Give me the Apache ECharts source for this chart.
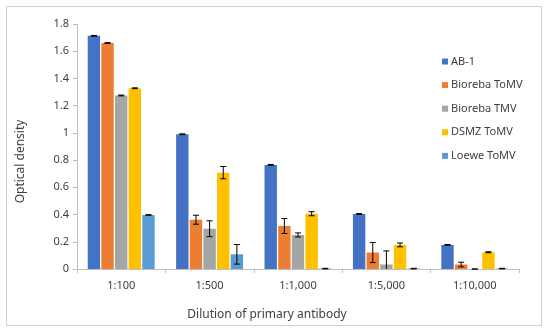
<!DOCTYPE html>
<html>
<head>
<meta charset="utf-8">
<script src="https://cdn.jsdelivr.net/npm/echarts@6/dist/echarts.min.js"></script>
<style>html,body{margin:0;padding:0;background:#fff}#c{width:550px;height:333px}</style>
</head>
<body>
<div id="c"></div>
<script>
const categories = ['1:100', '1:500', '1:1,000', '1:5,000', '1:10,000'];
const seriesNames = ['AB-1', 'Bioreba ToMV', 'Bioreba TMV', 'DSMZ ToMV', 'Loewe ToMV'];
const ab1 = [1.713, 0.990, 0.765, 0.404, 0.177];
const ab1Err = [0.003, 0.003, 0.003, 0.003, 0.003];
const biorebaToMV = [1.660, 0.362, 0.316, 0.121, 0.033];
const biorebaToMVErr = [0.003, 0.033, 0.055, 0.074, 0.017];
const biorebaTMV = [1.275, 0.296, 0.250, 0.033, 0.000];
const biorebaTMVErr = [0.003, 0.058, 0.015, 0.100, 0.000];
const dsmzToMV = [1.328, 0.708, 0.406, 0.177, 0.123];
const dsmzToMVErr = [0.003, 0.045, 0.015, 0.014, 0.004];
const loeweToMV = [0.397, 0.108, 0.003, 0.003, 0.003];
const loeweToMVErr = [0.002, 0.072, 0.002, 0.002, 0.002];
const yTicks = { min: 0, max: 1.8, interval: 0.2 };

const values = [ab1, biorebaToMV, biorebaTMV, dsmzToMV, loeweToMV];
const errors = [ab1Err, biorebaToMVErr, biorebaTMVErr, dsmzToMVErr, loeweToMVErr];
const colors = ['#4472C4', '#ED7D31', '#A5A5A5', '#FFC000', '#5B9BD5'];
const BAR_W = 12.4, BAR_GAP = 0.1;
const FONT = 'Noto Sans';

const chart = echarts.init(document.getElementById('c'), null, { renderer: 'canvas' });

const barSeries = values.map((arr, i) => ({
  name: seriesNames[i],
  type: 'bar',
  data: arr,
  barWidth: BAR_W,
  barGap: (BAR_GAP * 100) + '%',
  itemStyle: { color: colors[i] },
  z: 2
}));

const errSeries = values.map((arr, i) => ({
  name: seriesNames[i] + ' err',
  type: 'custom',
  z: 5,
  silent: true,
  data: arr.map((v, j) => [j, v, errors[i][j]]),
  renderItem: function (params, api) {
    const j = api.value(0), v = api.value(1), e = api.value(2);
    const off = (i - 2) * BAR_W * (1 + BAR_GAP);
    const hiV = v + e, loV = Math.max(0, v - e);
    const hi = api.coord([j, hiV]);
    const lo = api.coord([j, loV]);
    const x = hi[0] + off;
    const cap = 3;
    const st = { stroke: '#000', lineWidth: 1 };
    const kids = [
      { type: 'line', shape: { x1: x, y1: hi[1], x2: x, y2: lo[1] }, style: st },
      { type: 'line', shape: { x1: x - cap, y1: hi[1], x2: x + cap, y2: hi[1] }, style: st }
    ];
    if (v - e >= 0) {
      kids.push({ type: 'line', shape: { x1: x - cap, y1: lo[1], x2: x + cap, y2: lo[1] }, style: st });
    }
    return { type: 'group', children: kids };
  }
}));

chart.setOption({
  animation: false,
  backgroundColor: '#fff',
  textStyle: { fontFamily: FONT },
  grid: { left: 77, right: 31, top: 24, bottom: 64 },
  graphic: [{
    type: 'rect',
    shape: { x: 6.5, y: 6.5, width: 535, height: 319 },
    style: { fill: 'none', stroke: '#d0d0d0', lineWidth: 1 },
    silent: true
  }],
  legend: {
    orient: 'vertical',
    left: 437,
    top: 51,
    itemWidth: 6,
    itemHeight: 6,
    itemGap: 12.6,
    icon: 'rect',
    data: seriesNames,
    textStyle: { fontFamily: FONT, fontSize: 11, color: '#404040', padding: [0, 0, 0, -2] }
  },
  xAxis: {
    type: 'category',
    data: categories,
    name: 'Dilution of primary antibody',
    nameLocation: 'middle',
    nameGap: 40,
    nameTextStyle: { fontFamily: FONT, fontSize: 12, color: '#404040', padding: [0, 62, 0, 0] },
    axisLine: { lineStyle: { color: '#bfbfbf' } },
    axisTick: { show: true, length: 4, lineStyle: { color: '#bfbfbf' } },
    axisLabel: { fontFamily: FONT, fontSize: 11, color: '#404040', margin: 11 }
  },
  yAxis: {
    type: 'value',
    min: yTicks.min,
    max: yTicks.max,
    interval: yTicks.interval,
    name: 'Optical density',
    nameLocation: 'middle',
    nameGap: 50,
    nameTextStyle: { fontFamily: FONT, fontSize: 12, color: '#404040', padding: [0, 30, 0, 0] },
    splitLine: { show: false },
    axisLine: { show: true, lineStyle: { color: '#bfbfbf' } },
    axisTick: { show: true, length: 4, lineStyle: { color: '#bfbfbf' } },
    axisLabel: { fontFamily: FONT, fontSize: 11, color: '#404040', margin: 8 }
  },
  series: barSeries.concat(errSeries)
});
</script>
</body>
</html>
